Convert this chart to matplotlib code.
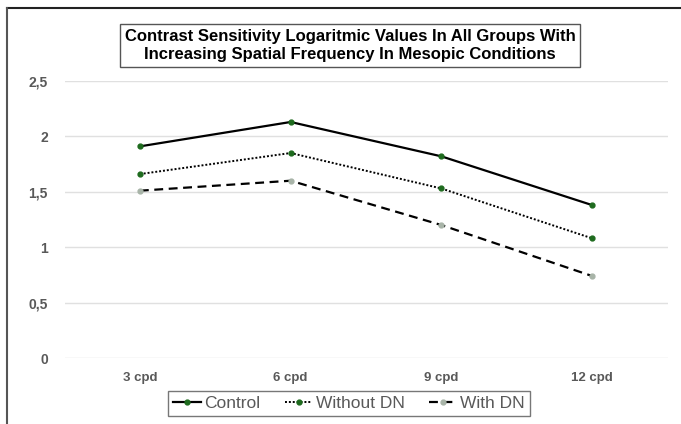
import matplotlib.pyplot as plt
from matplotlib.lines import Line2D

# Data
categories = ["3 cpd", "6 cpd", "9 cpd", "12 cpd"]
control = [1.91, 2.13, 1.82, 1.38]
without_dn = [1.66, 1.85, 1.53, 1.08]
with_dn = [1.51, 1.60, 1.20, 0.74]
y_ticks = [0, 0.5, 1, 1.5, 2, 2.5]
y_tick_labels = ["0", "0,5", "1", "1,5", "2", "2,5"]

TEXT_COLOR = "#595959"
GRID_COLOR = "#E0E0E0"
GREEN = "#1E6B1E"
GRAY_MARK = "#A8B4A8"

plt.rcParams['font.family'] = ['Liberation Sans', 'DejaVu Sans']

fig = plt.figure(figsize=(6.81, 4.24), dpi=100)
ax = fig.add_axes([64.5 / 681, 1 - 358 / 424, 603 / 681, 277 / 424])

x = list(range(len(categories)))
ax.plot(x, control, color="black", linestyle="-", linewidth=1.6,
        marker="o", markersize=3.5, markerfacecolor=GREEN, markeredgecolor=GREEN,
        label="Control", zorder=3)
ax.plot(x, without_dn, color="black", linestyle=(0, (1, 1)), linewidth=1.4,
        marker="o", markersize=3.5, markerfacecolor=GREEN, markeredgecolor=GREEN,
        label="Without DN", zorder=3)
ax.plot(x, with_dn, color="black", linestyle=(0, (4, 2.5)), linewidth=1.6,
        marker="o", markersize=3.5, markerfacecolor=GRAY_MARK, markeredgecolor=GRAY_MARK,
        label="With DN", zorder=3)

ax.set_xlim(-0.5, len(categories) - 0.5)
ax.set_ylim(0, 2.5)
ax.set_xticks(x)
ax.set_xticklabels(categories, fontsize=9.5, fontweight="bold", color=TEXT_COLOR)
ax.set_yticks(y_ticks)
ax.set_yticklabels(y_tick_labels, fontsize=10, fontweight="bold", color=TEXT_COLOR)
ax.tick_params(axis="both", length=0)
ax.tick_params(axis="x", pad=10)
ax.tick_params(axis="y", pad=12)
ax.grid(axis="y", color=GRID_COLOR, linewidth=1)
ax.set_axisbelow(True)
for spine in ax.spines.values():
    spine.set_visible(False)

# Title in a box
fig.text(350 / 681, 1 - 45 / 424,
         "Contrast Sensitivity Logaritmic Values In All Groups With\n"
         "Increasing Spatial Frequency In Mesopic Conditions",
         ha="center", va="center", fontsize=12, fontweight="bold",
         color="black", linespacing=1.25,
         bbox=dict(boxstyle="square,pad=0.3", facecolor="white",
                   edgecolor="#555555", linewidth=1))

# Legend
handles = [
    Line2D([], [], color="black", linestyle="-", linewidth=1.6, marker="o",
           markersize=3.5, markerfacecolor=GREEN, markeredgecolor=GREEN),
    Line2D([], [], color="black", linestyle=(0, (1, 1)), linewidth=1.4, marker="o",
           markersize=3.5, markerfacecolor=GREEN, markeredgecolor=GREEN),
    Line2D([], [], color="black", linestyle=(0, (4, 2.5)), linewidth=1.6, marker="o",
           markersize=3.5, markerfacecolor=GRAY_MARK, markeredgecolor=GRAY_MARK),
]
leg = fig.legend(handles, ["Control", "Without DN", "With DN"],
                 loc="center", bbox_to_anchor=(349 / 681, 1 - 403.5 / 424),
                 ncol=3, frameon=True, fancybox=False, fontsize=12.5,
                 handlelength=1.6, handletextpad=0.2, columnspacing=1.4,
                 borderpad=0.3, labelcolor=TEXT_COLOR)
leg.get_frame().set_edgecolor("#555555")
leg.get_frame().set_linewidth(1)

# Outer frame lines (top and left, as cropped in the reference)
fig.add_artist(Line2D([7 / 681, 1], [1 - 8 / 424, 1 - 8 / 424],
                      color="#222222", linewidth=1.5, transform=fig.transFigure))
fig.add_artist(Line2D([7 / 681, 7 / 681], [0, 1 - 8 / 424],
                      color="#555555", linewidth=1.5, transform=fig.transFigure))

fig.savefig("out.png", dpi=100)
